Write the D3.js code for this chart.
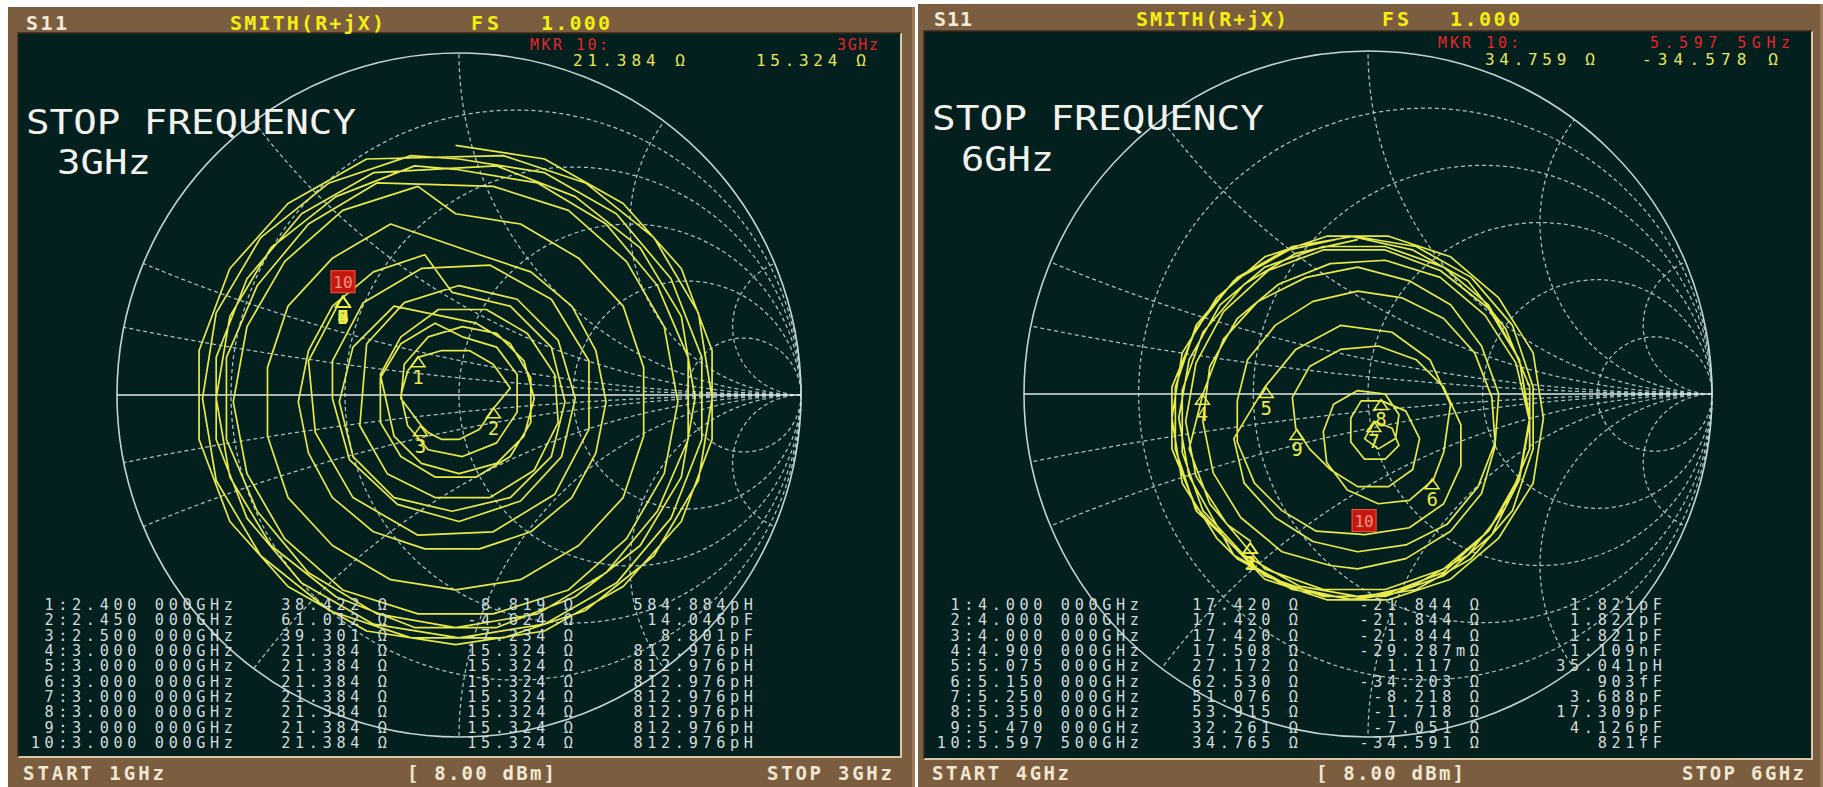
<!DOCTYPE html>
<html>
<head>
<meta charset="utf-8">
<title>S11 Smith chart</title>
<script src="https://d3js.org/d3.v7.min.js"></script>
<style>
  body { margin: 0; background: #ffffff; }
  svg { display: block; }
  text { font-family: "DejaVu Sans Mono", "Liberation Mono", monospace; }
</style>
</head>
<body>
<svg id="screen" width="1823" height="787"></svg>
<script>
// graticule of the Smith chart (normalised r and x)
var rCircles = [0.2, 0.5, 1, 2, 5];
var xArcs = [0.1, 0.2, 0.5, 1, 2, 5];

// marker table, left screen (1-3 GHz)
var leftFreq = ["2.400 000", "2.450 000", "2.500 000", "3.000 000", "3.000 000",
                "3.000 000", "3.000 000", "3.000 000", "3.000 000", "3.000 000"];
var leftR = [38.422, 61.012, 39.301, 21.384, 21.384, 21.384, 21.384, 21.384, 21.384, 21.384];
var leftX = [8.819, -4.624, -7.234, 15.324, 15.324, 15.324, 15.324, 15.324, 15.324, 15.324];
var leftLC = ["584.884pH", "14.046pF", "8.801pF", "812.976pH", "812.976pH",
              "812.976pH", "812.976pH", "812.976pH", "812.976pH", "812.976pH"];

// marker table, right screen (4-6 GHz)
var rightFreq = ["4.000 000", "4.000 000", "4.000 000", "4.900 000", "5.075 000",
                 "5.150 000", "5.250 000", "5.350 000", "5.470 000", "5.597 500"];
var rightR = [17.420, 17.420, 17.420, 17.508, 27.172, 62.530, 51.076, 53.915, 32.261, 34.765];
var rightX = [-21.844, -21.844, -21.844, -0.029287, 1.117, -34.203, -8.218, -1.718, -7.051, -34.591];
var rightLC = ["1.821pF", "1.821pF", "1.821pF", "1.109nF", "35.041pH",
               "903fF", "3.688pF", "17.309pF", "4.126pF", "821fF"];

// screen texts
var headerText = ["S11", "SMITH(R+jX)", "FS", "1.000"];
var leftMkr = ["MKR 10:", "3GHz", "21.384 \u03a9", "15.324 \u03a9"];
var rightMkr = ["MKR 10:", "5.597 5GHz", "34.759 \u03a9", "-34.578 \u03a9"];
var leftNote = ["STOP FREQUENCY", "3GHz"];
var rightNote = ["STOP FREQUENCY", "6GHz"];
var leftFooter = ["START 1GHz", "[ 8.00 dBm]", "STOP 3GHz"];
var rightFooter = ["START 4GHz", "[ 8.00 dBm]", "STOP 6GHz"];

var leftTrace = [
  [-.01,.73],[.25,.69],[.48,.56],[.65,.37],[.74,.13],[.74,-.13],[.65,-.37],[.48,-.56],[.25,-.69],
  [-.01,-.73],[-.27,-.69],[-.5,-.56],[-.67,-.37],[-.76,-.13],[-.76,.13],[-.67,.37],[-.5,.56],[-.27,.69],
  [.13,.7],[.37,.62],[.57,.46],[.7,.24],[.74,-.01],[.7,-.25],[.57,-.47],[.37,-.63],[.13,-.71],
  [-.14,-.71],[-.38,-.63],[-.58,-.47],[-.71,-.25],[-.75,-.01],[-.71,.24],[-.58,.46],[-.38,.62],[-.14,.7],
  [0,.69],[.25,.65],[.46,.53],[.62,.34],[.71,.11],[.71,-.13],[.62,-.36],[.46,-.55],[.25,-.67],
  [0,-.71],[-.25,-.67],[-.46,-.55],[-.62,-.36],[-.71,-.13],[-.71,.11],[-.62,.34],[-.46,.53],[-.25,.65],
  [.11,.67],[.34,.58],[.53,.43],[.65,.23],[.69,-.01],[.65,-.24],[.53,-.44],[.34,-.59],[.11,-.68],
  [-.13,-.68],[-.36,-.59],[-.55,-.44],[-.67,-.24],[-.71,-.01],[-.67,.23],[-.55,.43],[-.36,.58],[-.13,.67],
  [-.01,.66],[.23,.62],[.43,.5],[.58,.32],[.67,.11],[.67,-.13],[.58,-.34],[.43,-.52],[.23,-.64],
  [-.01,-.68],[-.24,-.64],[-.44,-.52],[-.59,-.34],[-.68,-.13],[-.68,.11],[-.59,.32],[-.44,.5],[-.24,.62],
  [.1,.61],[.32,.54],[.49,.39],[.6,.2],[.64,-.02],[.6,-.23],[.49,-.42],[.32,-.57],[.1,-.64],
  [-.12,-.64],[-.34,-.57],[-.51,-.42],[-.62,-.23],[-.66,-.02],[-.62,.2],[-.51,.39],[-.34,.54],[-.12,.61],
  [-.01,.53],[.18,.5],[.35,.4],[.48,.26],[.54,.08],[.54,-.12],[.48,-.3],[.35,-.44],[.18,-.54],
  [-.01,-.57],[-.2,-.54],[-.37,-.44],[-.5,-.3],[-.56,-.12],[-.56,.08],[-.5,.26],[-.37,.4],[-.2,.5],
  [.06,.41],[.21,.36],[.33,.26],[.4,.13],[.43,-.02],[.4,-.17],[.33,-.3],[.21,-.4],[.06,-.45],
  [-.1,-.45],[-.25,-.4],[-.37,-.3],[-.44,-.17],[-.47,-.02],[-.44,.13],[-.37,.26],[-.25,.36],[-.1,.41],
  [-.02,.3],[.15,.26],[.27,.14],[.31,-.02],[.27,-.18],[.15,-.3],[-.02,-.34],[-.19,-.3],[-.31,-.18],[-.35,-.02],[-.31,.14],[-.19,.26],
  [.05,.21],[.15,.15],[.21,.05],[.21,-.08],[.15,-.18],[.05,-.24],[-.07,-.24],[-.17,-.18],[-.23,-.08],[-.23,.05],[-.17,.15],[-.07,.21],
  [.01,.17],[.11,.14],[.17,.06],[.17,-.05],[.11,-.14],[.01,-.18],[-.09,-.16],[-.15,-.09],[-.17,0],[-.15,.07],
  [-.12,.11],[-.05,.13],[.03,.13],[.1,.09],[.15,.02],[.1,-.04],[.06,-.1],[0,-.13],[-.05,-.13],[-.09,-.11],[-.11,-.09],
  [-.17,-.01],[-.16,.09],[-.09,.17],[.01,.2],[.11,.18],[.19,.1],[.22,-.01],[.19,-.12],[.11,-.2],[0,-.23],[-.11,-.2],[-.19,-.12],
  [-.23,.06],[-.17,.17],[-.06,.25],[.08,.25],[.2,.18],[.28,.06],[.29,-.08],[.22,-.22],[.09,-.3],[-.07,-.3],[-.21,-.23],[-.29,-.09],
  [-.27,.15],[-.16,.27],[0,.32],[.17,.28],[.29,.16],[.34,-.01],[.3,-.18],[.18,-.31],[0,-.37],[-.18,-.32],[-.32,-.19],[-.37,-.01],
  [-.37,.1],[-.28,.27],[-.11,.37],[.09,.38],[.27,.28],[.38,.1],[.38,-.1],[.28,-.29],[.1,-.4],[-.12,-.41],[-.31,-.3],[-.42,-.11],
  [-.44,.1],[-.34,.29]
];

var rightTrace = [
  [-.34,-.43],
  [-.41,-.38],[-.5,-.24],[-.53,-.08],[-.5,.09],[-.42,.24],[-.29,.36],[-.13,.42],[.05,.42],[.21,.36],
  [.35,.25],[.44,.1],[.47,-.08],[.44,-.25],[.36,-.41],[.22,-.53],[.05,-.59],[-.13,-.59],[-.3,-.53],
  [-.5,-.34],[-.56,-.16],[-.56,.02],[-.5,.2],[-.38,.34],[-.22,.43],[-.04,.46],[.14,.43],[.3,.34],
  [.42,.2],[.48,.02],[.48,-.16],[.42,-.34],[.3,-.48],[.14,-.57],[-.04,-.6],[-.22,-.57],[-.38,-.48],
  [-.44,-.42],[-.54,-.26],[-.57,-.07],[-.54,.12],[-.44,.28],[-.3,.4],[-.12,.46],[.06,.46],[.24,.4],
  [.38,.28],[.48,.12],[.51,-.07],[.48,-.26],[.38,-.42],[.24,-.54],[.06,-.6],[-.12,-.6],[-.3,-.54],
  [-.5,-.33],[-.57,-.16],[-.57,.02],[-.5,.19],[-.39,.33],[-.23,.42],[-.05,.46],[.13,.42],[.29,.33],
  [.4,.19],[.47,.02],[.47,-.16],[.4,-.33],[.29,-.47],[.13,-.56],[-.05,-.6],[-.23,-.56],[-.39,-.47],
  [-.43,-.4],[-.52,-.24],[-.55,-.07],[-.52,.1],[-.43,.26],[-.3,.37],[-.13,.43],[.05,.43],[.22,.37],
  [.35,.26],[.44,.1],[.47,-.07],[.44,-.24],[.35,-.4],[.22,-.51],[.05,-.57],[-.13,-.57],[-.3,-.51],
  [-.46,-.32],[-.52,-.16],[-.48,0],[-.42,.16],[-.32,.27],[-.18,.34],[-.03,.37],[.12,.33],[.24,.26],
  [.33,.14],[.38,0],[.37,-.14],[.32,-.27],[.23,-.38],[.11,-.44],[-.03,-.46],[-.16,-.43],[-.27,-.36],[-.36,-.26],[-.39,-.13],
  [-.3,.02],[-.21,.13],[-.08,.2],[.07,.18],[.18,.1],[.24,-.03],[.22,-.17],[.19,-.25],
  [.12,-.31],[.03,-.32],[-.06,-.28],[-.12,-.2],[-.13,-.11],[-.1,-.03],[-.03,.01],[.05,0],[.09,-.06],[.08,-.13],[.03,-.16],[-.01,-.13],
  [.02,-.08],[.07,-.1],[.09,-.15],[.05,-.19],[-.01,-.19],[-.05,-.14],[-.05,-.07],[-.02,-.02],[.04,-.02],
  [.11,-.05],[.15,-.13],[.13,-.22],[.06,-.27],[-.03,-.27],[-.11,-.22],[-.17,-.16],[-.21,-.1],
  [-.22,-.01],[-.17,.08],[-.08,.13],[.03,.14],[.14,.1],[.22,.02],[.27,-.09],[.27,-.21],[.22,-.32],[.12,-.39],[-.01,-.41],
  [-.15,-.4],[-.25,-.34],[-.33,-.26],[-.38,-.14],[-.38,-.02],[-.35,.1],[-.27,.2],[-.16,.27],[-.03,.3],
  [.1,.28],[.22,.22],[.31,.12],[.36,-.01],[.37,-.15],[.33,-.29],[.24,-.4],[.11,-.48],[-.03,-.51],
  [-.11,-.5],[-.25,-.46],[-.37,-.36],[-.45,-.23],[-.48,-.08],[-.46,.08],[-.38,.22],[-.26,.32],[-.11,.38],
  [.05,.39],[.21,.34],[.34,.23],[.43,.09],[.47,-.08],[.44,-.25],[.35,-.4],[.22,-.52],[.06,-.58],
  [-.03,-.59],[-.2,-.56],[-.36,-.47],[-.48,-.34],[-.54,-.17],[-.54,.01],[-.48,.18],[-.36,.32],[-.21,.41],[-.03,.45]
];

var svg = d3.select('#screen');

function gamma(R, X) {
  var r = R/50, x = X/50, d = (r+1)*(r+1) + x*x;
  return [(r*r + x*x - 1)/d, 2*x/d];
}

function ohm(v) {
  if (Math.abs(v) < 1) return (v*1000).toFixed(3) + 'm\u03a9';
  return v.toFixed(3) + ' \u03a9';
}

// text squeezed or stretched to the width it has on the screen
function fitText(g, str, x, y, w, size, colour, weight, adjust) {
  return g.append('text')
    .attr('x', x)
    .attr('y', y)
    .attr('textLength', w)
    .attr('lengthAdjust', adjust || 'spacing')
    .style('font-size', size + 'px')
    .style('font-weight', weight || 'normal')
    .attr('fill', colour)
    .text(str);
}

function drawScreen(p) {
  var pitch = 13.8, tsize = 15.2, ls = pitch - 0.602*tsize;

  var g = svg.append('g');

  // bezel
  g.append('rect')
    .attr('x', p.x0).attr('y', p.y0)
    .attr('width', p.x1 - p.x0).attr('height', 787 - p.y0)
    .attr('fill', '#7b5d40');
  g.append('rect')
    .attr('x', p.x1 - 3).attr('y', p.y0)
    .attr('width', 3).attr('height', 787 - p.y0)
    .attr('fill', '#9c7a58');

  // screen
  g.append('rect')
    .attr('x', p.dx0).attr('y', p.dy0)
    .attr('width', p.dx1 - p.dx0).attr('height', p.dy1 - p.dy0)
    .attr('fill', '#03201f');
  g.append('path')
    .attr('d', 'M' + p.dx0 + ',' + p.dy1 + 'H' + p.dx1 + 'V' + p.dy0)
    .attr('fill', 'none').attr('stroke', '#d9c7a6').attr('stroke-width', 2);
  g.append('path')
    .attr('d', 'M' + p.dx0 + ',' + p.dy1 + 'V' + p.dy0 + 'H' + p.dx1)
    .attr('fill', 'none').attr('stroke', '#3b2a1a').attr('stroke-width', 1.5);

  var xs = d3.scaleLinear().domain([-1, 1]).range([p.cx - p.rx, p.cx + p.rx]);
  var ys = d3.scaleLinear().domain([-1, 1]).range([p.cy + p.ry, p.cy - p.ry]);
  var line = d3.line().x(function(d) { return xs(d[0]); }).y(function(d) { return ys(d[1]); });

  // graticule
  var grid = g.append('g')
    .attr('fill', 'none')
    .attr('stroke', '#adc2c2')
    .attr('stroke-width', 1.25)
    .attr('stroke-dasharray', '4,3');

  rCircles.forEach(function(r) {
    grid.append('ellipse')
      .attr('cx', xs(r/(r+1)))
      .attr('cy', ys(0))
      .attr('rx', xs(1/(r+1)) - xs(0))
      .attr('ry', ys(0) - ys(1/(r+1)));
  });

  xArcs.forEach(function(x) {
    var R = 1/x,
        px = (x*x - 1)/(x*x + 1),
        py = 2*x/(x*x + 1),
        a1 = Math.atan2(py - R, px - 1);
    if (a1 > -Math.PI/2) a1 -= 2*Math.PI;
    [1, -1].forEach(function(s) {
      var pts = d3.range(121).map(function(i) {
        var a = -Math.PI/2 + (a1 + Math.PI/2)*i/120;
        return [1 + R*Math.cos(a), s*(R + R*Math.sin(a))];
      });
      grid.append('path').attr('d', line(pts));
    });
  });

  g.append('ellipse')
    .attr('cx', xs(0)).attr('cy', ys(0))
    .attr('rx', xs(1) - xs(0)).attr('ry', ys(0) - ys(1))
    .attr('fill', 'none').attr('stroke', '#c3d3d3').attr('stroke-width', 1.6);

  g.append('line')
    .attr('x1', xs(-1)).attr('x2', xs(1))
    .attr('y1', ys(0)).attr('y2', ys(0))
    .attr('stroke', '#dfe9e9').attr('stroke-width', 1.7);

  // trace
  g.append('path')
    .datum(p.trace)
    .attr('d', line)
    .attr('fill', 'none')
    .attr('stroke', '#e8ea4a')
    .attr('stroke-width', 1.7)
    .attr('stroke-linejoin', 'round');

  // markers
  var mk = g.append('g');
  p.R.forEach(function(R, i) {
    var gm = gamma(R, p.X[i]), mx = xs(gm[0]), my = ys(gm[1]);
    if (i === p.R.length - 1) {
      mk.append('rect')
        .attr('x', mx - 12).attr('y', my - 26)
        .attr('width', 24).attr('height', 22)
        .attr('fill', '#c3170f').attr('stroke', '#f04a38').attr('stroke-width', 1.2);
      mk.append('text')
        .attr('x', mx).attr('y', my - 9)
        .attr('text-anchor', 'middle')
        .style('font-size', '16px')
        .attr('fill', '#ff9484')
        .text(i + 1);
    } else {
      mk.append('path')
        .attr('d', 'M' + mx + ',' + my + 'l-7,10h14z')
        .attr('fill', 'none').attr('stroke', '#eeee46').attr('stroke-width', 1.5);
      mk.append('text')
        .attr('x', mx).attr('y', my + 27)
        .attr('text-anchor', 'middle')
        .style('font-size', '19px')
        .attr('fill', '#eeee46')
        .text(i + 1);
    }
  });

  // header bar
  var hx = p.head;
  fitText(g, headerText[0], hx[0], p.hy, hx[1], 20, '#f3ead6', 'bold');
  fitText(g, headerText[1], hx[2], p.hy, hx[3], 20, '#f4ee10', 'bold');
  fitText(g, headerText[2], hx[4], p.hy, hx[5], 20, '#f4ee10', 'bold');
  fitText(g, headerText[3], hx[6], p.hy, hx[7], 20, '#f4ee10', 'bold');

  // active marker readout
  var m = p.mkr;
  fitText(g, p.mkrText[0], m[0], p.my1, m[1], 15, '#e5262a');
  fitText(g, p.mkrText[1], m[2], p.my1, m[3], 15, '#e5262a');
  fitText(g, p.mkrText[2], m[4], p.my2, m[5], 16, '#e6e660');
  fitText(g, p.mkrText[3], m[6], p.my2, m[7], 16, '#e6e660');

  // annotation
  fitText(g, p.note[0], p.n1[0], p.n1[1], p.n1[2], 34, '#f2f2ee', 'normal', 'spacingAndGlyphs');
  fitText(g, p.note[1], p.n2[0], p.n2[1], p.n2[2], 34, '#f2f2ee', 'normal', 'spacingAndGlyphs');

  // marker table
  var cols = [
    p.freq.map(function(f, i) { return (i + 1) + ':' + f + 'GHz'; }),
    p.R.map(function(v) { return ohm(v); }),
    p.X.map(function(v) { return ohm(v); }),
    p.LC
  ];
  cols.forEach(function(col, c) {
    col.forEach(function(s, i) {
      var w = s.length*pitch - ls;
      g.append('text')
        .attr('x', p.colEnd[c] - w)
        .attr('y', p.row0 + i*p.rowStep)
        .attr('textLength', w)
        .attr('lengthAdjust', 'spacing')
        .style('font-size', tsize + 'px')
        .attr('fill', '#d3dcdc')
        .text(s);
    });
  });

  // footer bar
  var f = p.foot;
  fitText(g, p.footer[0], f[0], p.fy, f[1], 19, '#f1e7d2', 'bold');
  fitText(g, p.footer[1], f[2], p.fy, f[3], 19, '#f1e7d2', 'bold');
  fitText(g, p.footer[2], f[4], p.fy, f[5], 19, '#f1e7d2', 'bold');
}

drawScreen({
  x0: 8, x1: 915, y0: 7,
  dx0: 18, dx1: 901, dy0: 33, dy1: 757,
  cx: 459, cy: 395, rx: 342, ry: 342,
  trace: leftTrace,
  freq: leftFreq, R: leftR, X: leftX, LC: leftLC,
  head: [26, 41, 230, 154, 471, 28, 541, 69], hy: 30,
  mkrText: leftMkr, mkr: [530, 78, 837, 41, 573, 112, 756, 110], my1: 50, my2: 66,
  note: leftNote, n1: [26, 134, 330], n2: [57, 174, 94],
  colEnd: [233, 387, 573, 753], row0: 610, rowStep: 15.33,
  footer: leftFooter, foot: [23, 141, 407, 148, 767, 125], fy: 780
});

drawScreen({
  x0: 918, x1: 1823, y0: 4,
  dx0: 924, dx1: 1812, dy0: 31, dy1: 759,
  cx: 1368, cy: 394, rx: 344, ry: 343,
  trace: rightTrace,
  freq: rightFreq, R: rightR, X: rightX, LC: rightLC,
  head: [934, 38, 1136, 151, 1382, 27, 1450, 70], hy: 26,
  mkrText: rightMkr, mkr: [1438, 81, 1650, 140, 1485, 110, 1642, 136], my1: 48, my2: 65,
  note: rightNote, n1: [932, 130, 332], n2: [961, 171, 93],
  colEnd: [1139, 1298, 1479, 1662], row0: 610, rowStep: 15.33,
  footer: rightFooter, foot: [932, 137, 1316, 148, 1682, 122], fy: 780
});
</script>
</body>
</html>
